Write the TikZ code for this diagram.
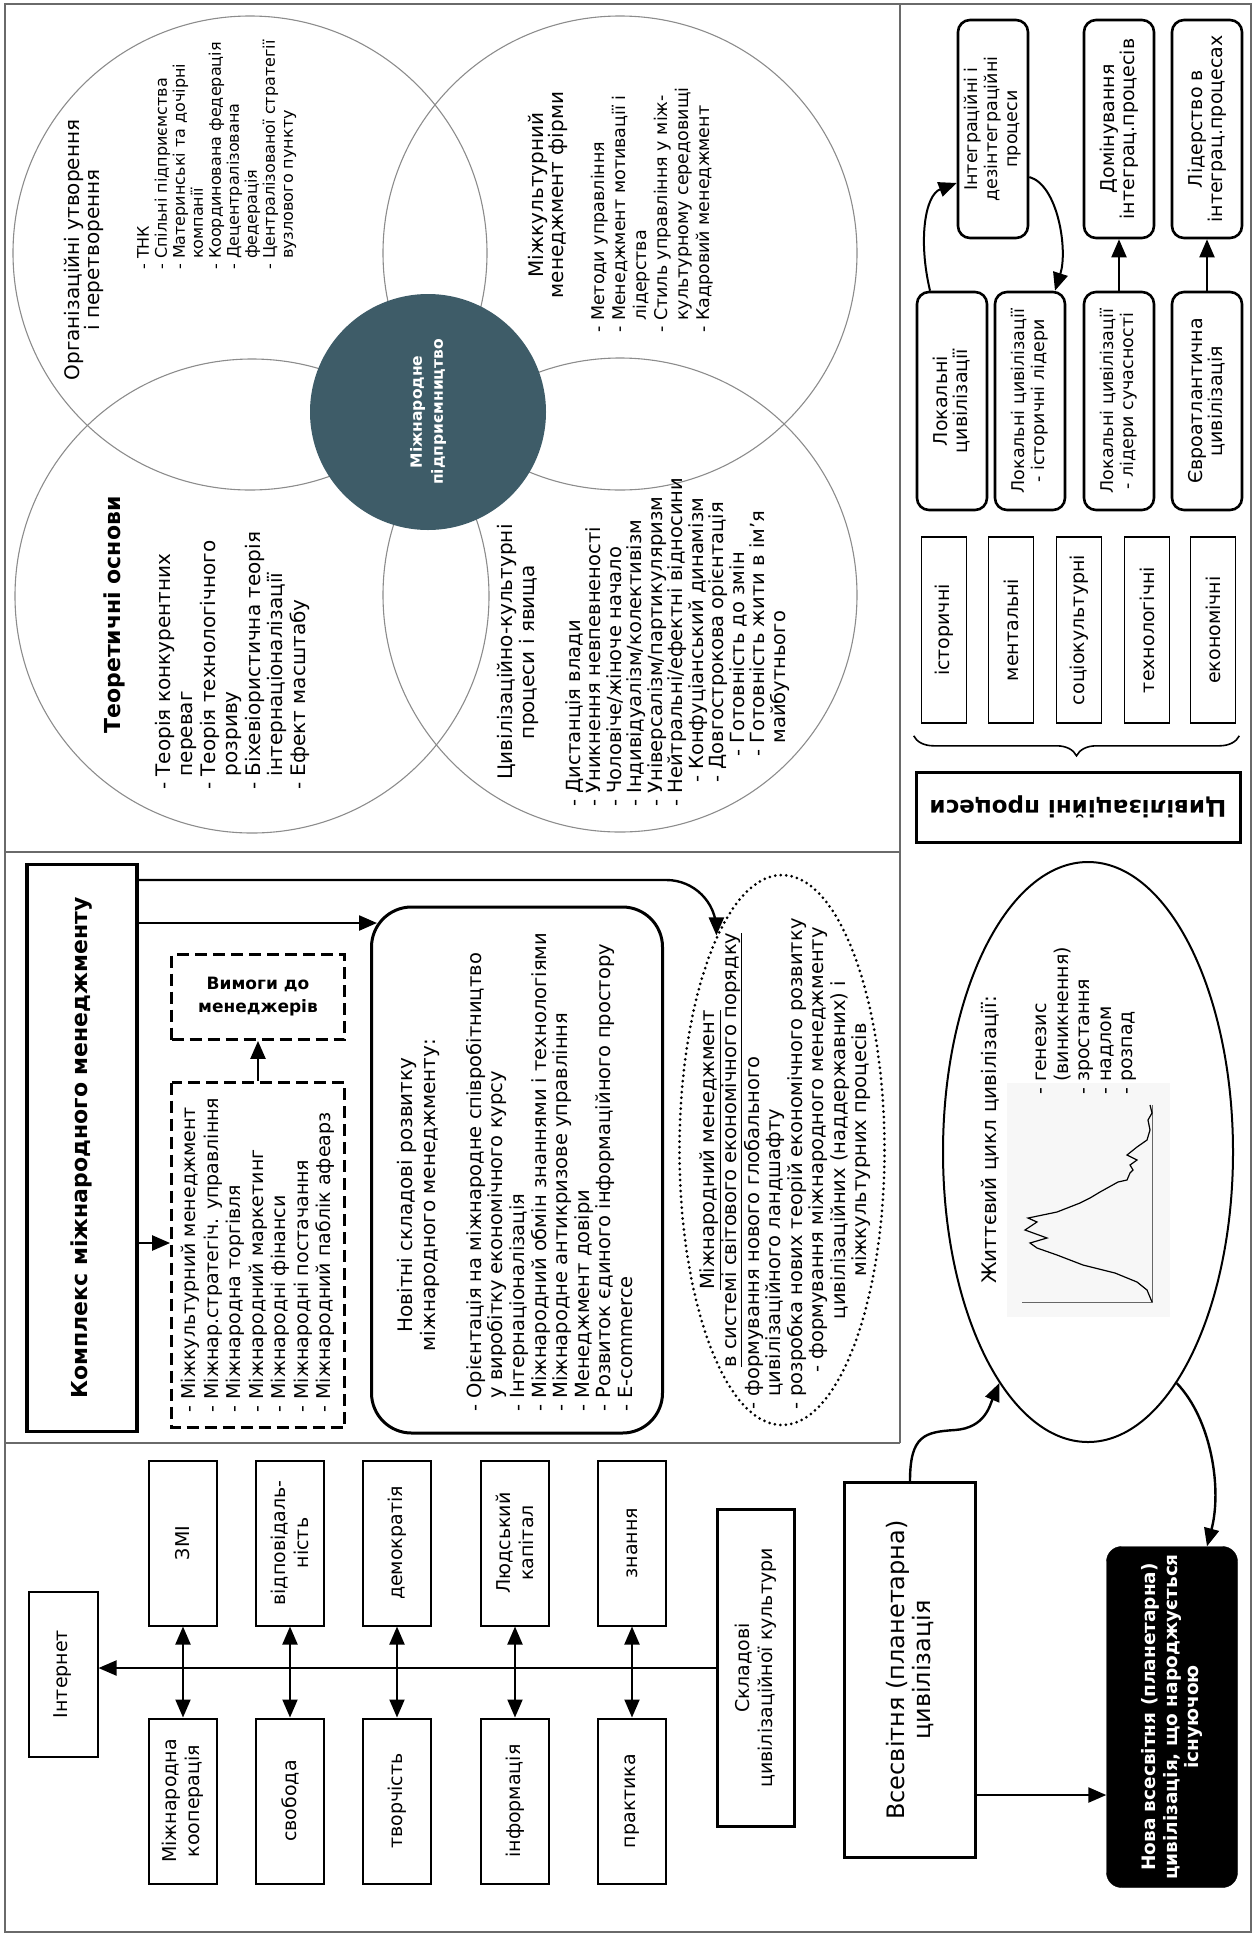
\documentclass[tikz,border=0pt]{standalone}
\usepackage{fontspec}
\setmainfont{DejaVu Sans}
\usetikzlibrary{arrows.meta,shapes.geometric,decorations.pathreplacing}
\newcommand{\fsz}[2]{\fontsize{#1}{#2}\selectfont\lineskiplimit=-50pt\relax}
\newcommand{\indt}{\hphantom{-~}}
\definecolor{hubcol}{HTML}{3E5C68}
\definecolor{panelcol}{HTML}{6A6A6A}
\begin{document}
\begin{tikzpicture}[x=1pt,y=-1pt,
    vtext/.style={rotate=90,inner sep=0pt},
    vlist/.style={rotate=90,inner sep=0pt,align=left,anchor=north west},
    ring/.style={circle,draw=black!45,line width=1.1pt,minimum size=474pt},
    panel/.style={draw=panelcol,line width=1.8pt},
    arr/.style={-{Triangle[length=18pt,width=15pt]},line width=2.4pt},
    darr/.style={{Triangle[length=18pt,width=15pt]}-{Triangle[length=18pt,width=15pt]},line width=2pt},
    thinbox/.style={rotate=90,draw,line width=2pt,inner sep=2pt,align=center},
    thickbox/.style={rotate=90,draw,line width=3.5pt,inner sep=2pt,align=center},
    rbox/.style={rotate=90,draw,line width=2.6pt,rounded corners=12pt,inner sep=2pt,align=center,
      minimum width=218pt,minimum height=70pt,font=\fsz{17.5}{20}},
    pbox/.style={rotate=90,draw,line width=1.6pt,inner sep=1pt,minimum width=186pt,minimum height=45pt,font=\fsz{19}{22}},
    cbox/.style={thinbox,minimum width=165pt,minimum height=68pt,font=\fsz{19}{23}},
    dashbox/.style={draw,line width=2.8pt,dash pattern=on 12pt off 6pt}]
  \useasboundingbox (0,0) rectangle (1254,1936);
  \draw[panel] (5,4) rectangle (1251,1932);
  \draw[panel] (900,4) -- (900,1443);
  \draw[panel] (5,852) -- (900,852);
  \draw[panel] (5,1443) -- (900,1443);

  \node[ring] (orgc) at (250,253) {};
  \node[ring] (teorc) at (252,596) {};
  \node[ring] (mkc) at (620,253) {};
  \node[ring] (tsc) at (620,595) {};
  \node[circle,fill=hubcol,minimum size=236pt,rotate=90,text=white,align=center,
    font=\bfseries\fsz{15.5}{21}] (hub) at (428,412) {Міжнародне\\підприємництво};

  \node[vtext,align=center,font=\fsz{20}{20}] (orgtit) at (84,250) {Організаційні утворення\\і перетворення};
  \node[vlist,font=\fsz{16}{18}] (orglist) at (137,270) {- ТНК\\- Спільні підприємства\\- Материнські та дочірні\\\indt компанії\\- Координована федерація\\- Децентралізована\\\indt федерація\\- Централізованої стратегії\\\indt вузлового пункту};
  \node[vtext,font=\bfseries\fsz{22}{24}] (teortit) at (114,615) {Теоретичні основи};
  \node[vlist,font=\fsz{20}{22.5}] (teorlist) at (155,790) {- Теорія конкурентних\\\indt переваг\\- Теорія технологічного\\\indt розриву\\- Біхевіористична теорія\\\indt інтернаціоналізації\\- Ефект масштабу};
  \node[vtext,align=center,font=\fsz{20}{20}] (mktit) at (548,195) {Міжкультурний\\менеджмент фірми};
  \node[vlist,font=\fsz{17.5}{21}] (mklist) at (591,333) {- Методи управління\\- Менеджмент мотивації і\\\indt лідерства\\- Стиль управління у між-\\\indt культурному середовищі\\- Кадровий менеджмент};
  \node[vtext,align=center,font=\fsz{20}{22}] (tstit) at (518,652) {Цивілізаційно-культурні\\процеси і явища};
  \node[vlist,font=\fsz{19.5}{20.5}] (tslist) at (565,807) {- Дистанція влади\\- Уникнення невпевненості\\- Чоловіче/жіноче начало\\- Індивідуалізм/колективізм\\- Універсалізм/партикуляризм\\- Нейтральні/ефектні відносини\\\hspace*{24pt}- Конфуціанський динамізм\\\hspace*{24pt}- Довгострокова орієнтація\\\hspace*{50pt}- Готовність до змін\\\hspace*{50pt}- Готовність жити в ім'я\\\hspace*{50pt}\indt майбутнього};

  \node[thickbox,minimum width=567pt,minimum height=110pt,font=\bfseries\fsz{22}{26}] (kompleks) at (82,1148) {Комплекс міжнародного менеджменту};
  \node[dashbox,minimum width=173pt,minimum height=85pt,align=center,font=\bfseries\fsz{17}{23}] (vymogy) at (258,997) {Вимоги до\\менеджерів};
  \node[dashbox,rotate=90,minimum width=345pt,minimum height=173pt,align=left,font=\fsz{19}{22.5}] (dlist) at (258,1255) {- Міжкультурний менеджмент\\- Міжнар.стратегіч. управління\\- Міжнародна торгівля\\- Міжнародний маркетинг\\- Міжнародні фінанси\\- Міжнародні постачання\\- Міжнародний паблік афеарз};
  \node[rotate=90,draw,line width=3pt,rounded corners=40pt,minimum width=526pt,minimum height=291pt] (novitni) at (517,1170) {};
  \node[vtext,align=center,font=\fsz{20}{23}] (novtit) at (418,1195) {Новітні складові розвитку\\міжнародного менеджменту:};
  \node[vlist,font=\fsz{19.5}{21.6}] (novlist) at (466,1412) {- Орієнтація на міжнародне співробітництво\\\indt у виробітку економічного курсу\\- Інтернаціоналізація\\- Міжнародний обмін знаннями і технологіями\\- Міжнародне антикризове управління\\- Менеджмент довіри\\- Розвиток єдиного інформаційного простору\\- E-commerce};
  \node[ellipse,draw,line width=3pt,dash pattern=on 0pt off 5.5pt,line cap=round,minimum width=205pt,minimum height=550pt] (mm) at (782,1150) {};
  \node[vtext,align=center,font=\fsz{19.5}{21.5}] (mmtit) at (721,1150) {\underline{Міжнародний менеджмент}\\\underline{в системі світового економічного порядку}};
  \node[vlist,font=\fsz{19.5}{21.5}] (mmlist) at (744,1410) {- формування нового глобального\\\indt цивілізаційного ландшафту\\- розробка нових теорій економічного розвитку};
  \node[vtext,align=center,font=\fsz{19.5}{21.5}] (mmrest) at (840,1150) {- формування міжнародного менеджменту\\цивілізаційних (наддержавних) і\\міжкультурних процесів};
  \draw[arr] (kompleks.south |- 0,1243) -- (dlist.north |- 0,1243);
  \draw[arr] (dlist.east) -- (vymogy.south);
  \draw[arr,shorten >=-7pt] (kompleks.south |- 0,923) -- (novitni.north |- 0,923);
  \draw[arr,rounded corners=50pt] (kompleks.south |- 0,880) -| (mm.107);

  \node[cbox,minimum height=69pt] (internet) at (63,1674) {Інтернет};
  \foreach \x/\tA/\tB [count=\i] in {183/ЗМІ/Міжнародна\\кооперація,290/відповідаль-\\ність/свобода,397/демократія/творчість,515/Людський\\капітал/інформація,632/знання/практика}{
    \node[cbox] (top\i) at (\x,1543) {\tA};
    \node[cbox] (bot\i) at (\x,1801) {\tB};
    \draw[darr] (top\i.west) -- (bot\i.east);
  }
  \node[thickbox,minimum width=317pt,minimum height=77pt,font=\fsz{19}{23}] (skladovi) at (756,1668) {Складові\\цивілізаційної культури};
  \draw[arr,line width=2pt] (skladovi.north) -- (skladovi.north -| internet.south);

  \node[thickbox,line width=3pt,minimum width=375pt,minimum height=131pt,font=\fsz{24}{26}] (vsesvit) at (910,1670) {Всесвітня (планетарна)\\цивілізація};
  \node[rotate=90,draw,fill=black,rounded corners=15pt,minimum width=341pt,minimum height=131pt,text=white,align=center,
    font=\bfseries\fsz{18.5}{21.5}] (nova) at (1172,1717) {Нова всесвітня (планетарна)\\цивілізація, що народжується\\існуючою};
  \node[ellipse,draw,line width=2pt,minimum width=290pt,minimum height=580pt] (life) at (1088,1152) {};
  \fill[black!3] (1007,1083) rectangle (1170,1317);
  \draw[black!60,line width=1pt] (1152,1105) -- (1152,1302) -- (1022,1302);
  \draw[line width=1.2pt] (1152,1302) -- (1147,1290) -- (1137,1282) -- (1115,1273) -- (1083,1265) -- (1057,1255) -- (1037,1248) -- (1030,1243) -- (1047,1238) -- (1025,1230) -- (1037,1222) -- (1028,1218) -- (1033,1217) -- (1057,1212) -- (1080,1203) -- (1090,1198) -- (1100,1192) -- (1118,1182) -- (1127,1180) -- (1130,1173) -- (1133,1170) -- (1130,1165) -- (1137,1160) -- (1127,1155) -- (1137,1147) -- (1147,1140) -- (1150,1130) -- (1148,1120) -- (1152,1113) -- (1150,1105);
  \node[vtext,font=\fsz{20}{22}] (lifetit) at (990,1140) {Життєвий цикл цивілізації:};
  \node[vlist,font=\fsz{19}{21.5}] (lifelist) at (1036,1095) {- генезис\\\indt (виникнення)\\- зростання\\- надлом\\- розпад};
  \draw[arr] (vsesvit.south |- 0,1795) -- (nova.north |- 0,1795);
  \draw[arr] (vsesvit.east) .. controls (910,1435) and (925,1432) .. (955,1430) .. controls (985,1428) and (990,1405) .. (life.249);
  \draw[arr] (life.291) .. controls (1212,1420) and (1222,1490) .. (nova.east -| 1207,0);

  \node[rbox] (integr) at (993,129) {Інтеграційні і\\дезінтеграційні\\процеси};
  \node[rbox,font=\fsz{19}{20}] (domin) at (1119,129) {Домінування\\інтеграц.процесів};
  \node[rbox,font=\fsz{19}{20}] (lider) at (1207,129) {Лідерство в\\інтеграц.процесах};
  \node[rbox,font=\fsz{19}{20}] (lokal) at (952,401) {Локальні\\цивілізації};
  \node[rbox] (lokhist) at (1030,401) {Локальні цивілізації\\- історичні лідери};
  \node[rbox] (loksuch) at (1119,401) {Локальні цивілізації\\- лідери сучасності};
  \node[rbox,font=\fsz{19}{20}] (euro) at (1207,401) {Євроатлантична\\цивілізація};
  \draw[arr,line width=2pt] (lokal.east -| 930,0) .. controls (918,240) and (925,195) .. (integr.north |- 0,183);
  \draw[arr,line width=2pt] (integr.south |- 0,177) .. controls (1058,185) and (1068,250) .. (lokhist.east -| 1055,0);
  \draw[arr,line width=2pt] (loksuch.east) -- (domin.west);
  \draw[arr,line width=2pt] (euro.east) -- (lider.west);
  \foreach \x/\lbl [count=\i] in {944/історичні,1011/ментальні,1079/соціокультурні,1147/технологічні,1213/економічні}
    \node[pbox] (proc\i) at (\x,630) {\lbl};
  \draw[decorate,decoration={brace,amplitude=20pt},line width=1.6pt] ([shift={(3pt,-12pt)}]proc5.south west) -- ([shift={(-7pt,-12pt)}]proc1.north west);
  \node[rotate=180,draw,line width=3pt,minimum width=324pt,minimum height=70pt,font=\bfseries\fsz{23}{26}] (civproc) at (1078,807) {Цивілізаційні процеси};
\end{tikzpicture}
\end{document}
